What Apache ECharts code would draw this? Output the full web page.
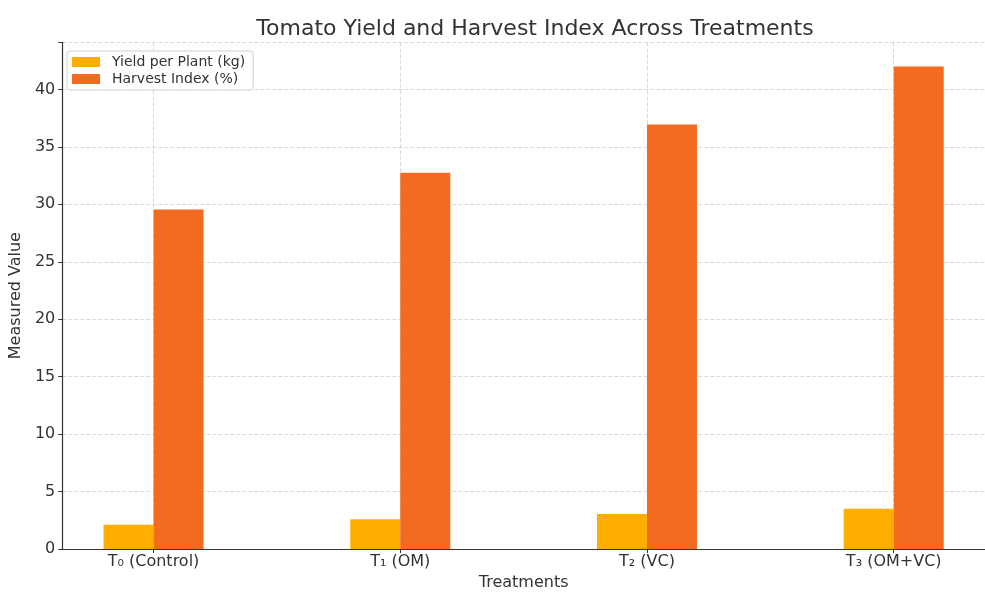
<!DOCTYPE html>
<html>
<head>
<meta charset="utf-8">
<script src="https://cdn.jsdelivr.net/npm/echarts@6/dist/echarts.min.js"></script>
<style>
  html, body { margin: 0; padding: 0; background: #fff; }
  #chart { width: 985px; height: 596px; }
</style>
</head>
<body>
<div id="chart"></div>
<script>
'use strict';
// data
const treatments = ['T\u2080 (Control)', 'T\u2081 (OM)', 'T\u2082 (VC)', 'T\u2083 (OM+VC)'];
const yieldPerPlant = [2.1, 2.58, 3.05, 3.5];
const harvestIndex = [29.55, 32.75, 36.95, 42.0];
const yTicks = [0, 5, 10, 15, 20, 25, 30, 35, 40];

const FONT = 'DejaVu Sans';
const TXT = '#333';

// bars sit on a value x axis so the plot margins can match
function pairs(vals) {
  return vals.map((v, i) => [i, v]);
}
const catPos = treatments.map((t, i) => i);

var dom = document.getElementById('chart');
var myChart = echarts.init(dom, null, {renderer: 'canvas'});

var option = {
  animation: false,
  textStyle: { fontFamily: FONT },
  title: {
    text: 'Tomato Yield and Harvest Index Across Treatments',
    left: 530,
    top: 13,
    textAlign: 'center',
    textStyle: { fontFamily: FONT, fontSize: 22, fontWeight: 'normal', color: TXT }
  },
  legend: {
    orient: 'vertical',
    left: 67,
    top: 51,
    padding: [4, 8, 4, 5],
    itemGap: 3,
    itemWidth: 28,
    itemHeight: 10,
    backgroundColor: 'rgba(255,255,255,0.85)',
    borderColor: '#d0d0d0',
    borderWidth: 1,
    borderRadius: 3,
    icon: 'rect',
    textStyle: { fontFamily: FONT, fontSize: 14, color: TXT, padding: [0, 0, 0, 7] },
    data: ['Yield per Plant (kg)', 'Harvest Index (%)']
  },
  grid: { left: 60, top: 42.3, width: 941, height: 512.4, containLabel: false },
  xAxis: {
    type: 'value',
    min: -0.37,
    max: 3.37,
    name: 'Treatments',
    nameLocation: 'middle',
    nameGap: 26,
    nameTextStyle: { fontFamily: FONT, fontSize: 16, color: TXT },
    axisLine: { show: true, onZero: false, lineStyle: { color: TXT, width: 1.2 } },
    axisTick: { show: true, length: 4, customValues: catPos, lineStyle: { color: TXT } },
    axisLabel: {
      customValues: catPos,
      margin: 5,
      fontFamily: FONT, fontSize: 16, color: TXT,
      formatter: function (v) { return treatments[Math.round(v)]; }
    },
    splitLine: { show: true, lineStyle: { color: '#d0d0d0', type: [4, 2], width: 0.8 } }
  },
  yAxis: {
    type: 'value',
    min: 0,
    max: 44.1,
    interval: 5,
    name: 'Measured Value',
    nameLocation: 'middle',
    nameGap: 29,
    nameTextStyle: { fontFamily: FONT, fontSize: 16, color: TXT },
    axisLine: { show: true, onZero: false, lineStyle: { color: TXT, width: 1.2 } },
    axisTick: { show: true, length: 4, lineStyle: { color: TXT } },
    axisLabel: {
      margin: 7, fontFamily: FONT, fontSize: 16, color: TXT,
      formatter: function (v) { return yTicks.indexOf(v) >= 0 ? String(v) : ''; }
    },
    splitLine: { show: true, lineStyle: { color: '#d0d0d0', type: [4, 2], width: 0.8 } }
  },
  series: [
    {
      name: 'Yield per Plant (kg)',
      type: 'bar',
      barWidth: 50,
      barGap: 0,
      itemStyle: { color: '#FFAE00' },
      data: pairs(yieldPerPlant)
    },
    {
      name: 'Harvest Index (%)',
      type: 'bar',
      barWidth: 50,
      barGap: 0,
      itemStyle: { color: '#F36B21' },
      data: pairs(harvestIndex)
    }
  ]
};

myChart.setOption(option, true);
</script>
</body>
</html>
